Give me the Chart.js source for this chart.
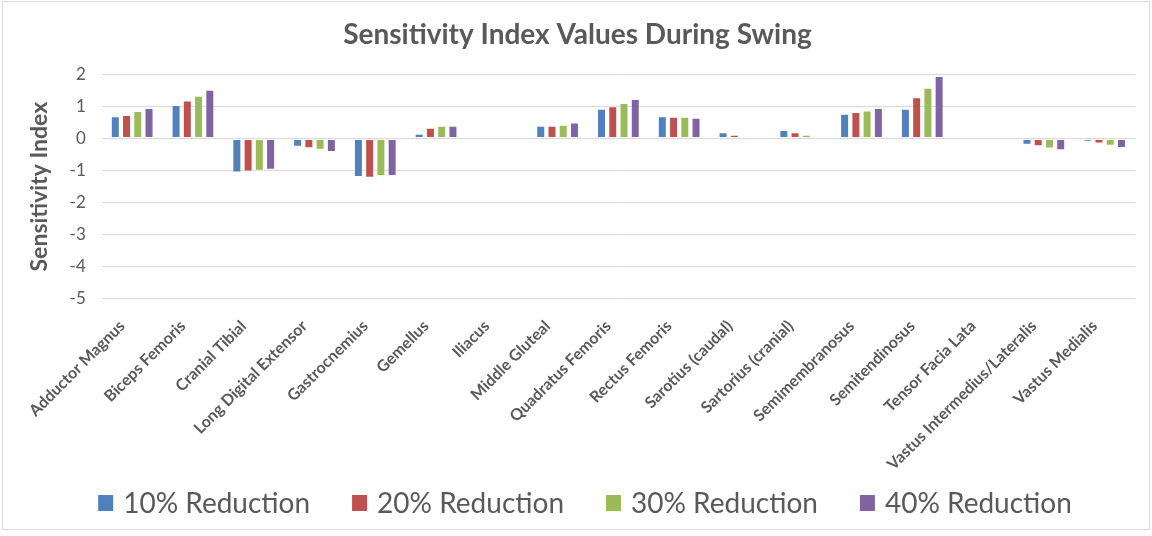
<!DOCTYPE html>
<html>
<head>
<meta charset="utf-8">
<script src="https://cdn.jsdelivr.net/npm/chart.js@4/dist/chart.umd.min.js"></script>
<style>
  html, body { margin: 0; padding: 0; background: #fff; }
  #wrap {
    position: absolute; left: 2px; top: 1px;
    width: 1148px; height: 529px;
    border: 1px solid #d9d9d9; box-sizing: border-box;
  }
  canvas { display: block; }
</style>
</head>
<body>
<div id="wrap"><canvas id="chart"></canvas></div>
<script>
const muscles = [
  'Adductor Magnus', 'Biceps Femoris', 'Cranial Tibial', 'Long Digital Extensor',
  'Gastrocnemius', 'Gemellus', 'Iliacus', 'Middle Gluteal', 'Quadratus Femoris',
  'Rectus Femoris', 'Sarotius (caudal)', 'Sartorius (cranial)', 'Semimembranosus',
  'Semitendinosus', 'Tensor Facia Lata', 'Vastus Intermedius/Lateralis', 'Vastus Medialis'
];

const reduction10 = [0.70, 1.05, -1.06, -0.25, -1.20, 0.15, 0.00, 0.40, 0.93, 0.70, 0.20, 0.27, 0.78, 0.93, 0.00, -0.19, -0.10];
const reduction20 = [0.74, 1.19, -1.03, -0.30, -1.22, 0.34, 0.00, 0.40, 1.01, 0.68, 0.12, 0.20, 0.83, 1.29, 0.00, -0.24, -0.15];
const reduction30 = [0.86, 1.34, -1.00, -0.35, -1.17, 0.40, -0.02, 0.43, 1.11, 0.68, 0.04, 0.12, 0.88, 1.59, 0.00, -0.31, -0.22];
const reduction40 = [0.96, 1.53, -0.97, -0.42, -1.17, 0.40, -0.07, 0.50, 1.24, 0.65, -0.04, 0.04, 0.96, 1.96, 0.00, -0.36, -0.29];

const seriesNames = ['10% Reduction', '20% Reduction', '30% Reduction', '40% Reduction'];
const seriesColors = ['#4F81BD', '#C0504D', '#9BBB59', '#8064A2'];

const yMin = -5;
const yMax = 2;

const textGray = '#595959';
const fontFamily = 'Lato, "Open Sans", sans-serif';

const allSeries = [reduction10, reduction20, reduction30, reduction40];

// legend drawn by hand so the items can sit wide apart without a tall legend box
const bottomLegend = {
  id: 'bottomLegend',
  afterDraw(chart) {
    const ctx = chart.ctx;
    const sets = chart.data.datasets;
    const boxW = 15, boxH = 16, gap = 10, spacing = 42;
    ctx.save();
    ctx.font = '28px ' + fontFamily;
    ctx.textBaseline = 'middle';
    const widths = sets.map(ds => boxW + gap + ctx.measureText(ds.label).width);
    const total = widths.reduce((a, b) => a + b, 0) + spacing * (sets.length - 1);
    let x = chart.width / 2 + 9 - total / 2;
    const y = chart.height - 26;
    sets.forEach((ds, i) => {
      ctx.fillStyle = ds.backgroundColor;
      ctx.fillRect(x, y - boxH / 2, boxW, boxH);
      ctx.fillStyle = textGray;
      ctx.fillText(ds.label, x + boxW + gap, y + 1);
      x += widths[i] + spacing;
    });
    ctx.restore();
  }
};

new Chart(document.getElementById('chart'), {
  type: 'bar',
  data: {
    labels: muscles,
    datasets: allSeries.map((vals, i) => ({
      label: seriesNames[i],
      data: vals,
      backgroundColor: seriesColors[i],
      borderColor: 'rgba(255,255,255,0.55)',
      borderWidth: 1,
      borderSkipped: false,
      categoryPercentage: 0.74,
      barPercentage: 0.8
    }))
  },
  options: {
    responsive: true,
    maintainAspectRatio: false,
    animation: false,
    layout: { padding: { left: 17, right: 14, top: 4, bottom: 45 } },
    plugins: {
      title: {
        display: true,
        text: 'Sensitivity Index Values During Swing',
        color: textGray,
        font: { family: fontFamily, size: 28, weight: 'bold' },
        padding: { top: 12, bottom: 23 }
      },
      legend: { display: false },
      tooltip: { enabled: false }
    },
    scales: {
      x: {
        grid: { display: false },
        border: { display: false },
        ticks: {
          color: textGray,
          font: { family: fontFamily, size: 16, weight: 'bold' },
          minRotation: 45,
          maxRotation: 45,
          autoSkip: false,
          padding: 10,
          labelOffset: -10
        }
      },
      y: {
        min: yMin,
        max: yMax,
        grid: { color: '#d9d9d9', lineWidth: 1, drawTicks: false },
        border: { display: false },
        ticks: {
          stepSize: 1,
          color: textGray,
          font: { family: fontFamily, size: 17 },
          padding: 16
        },
        title: {
          display: true,
          text: 'Sensitivity Index',
          color: textGray,
          font: { family: fontFamily, size: 23, weight: 'bold' },
          padding: { top: 6, bottom: 0 }
        }
      }
    }
  },
  plugins: [bottomLegend]
});
</script>
</body>
</html>
